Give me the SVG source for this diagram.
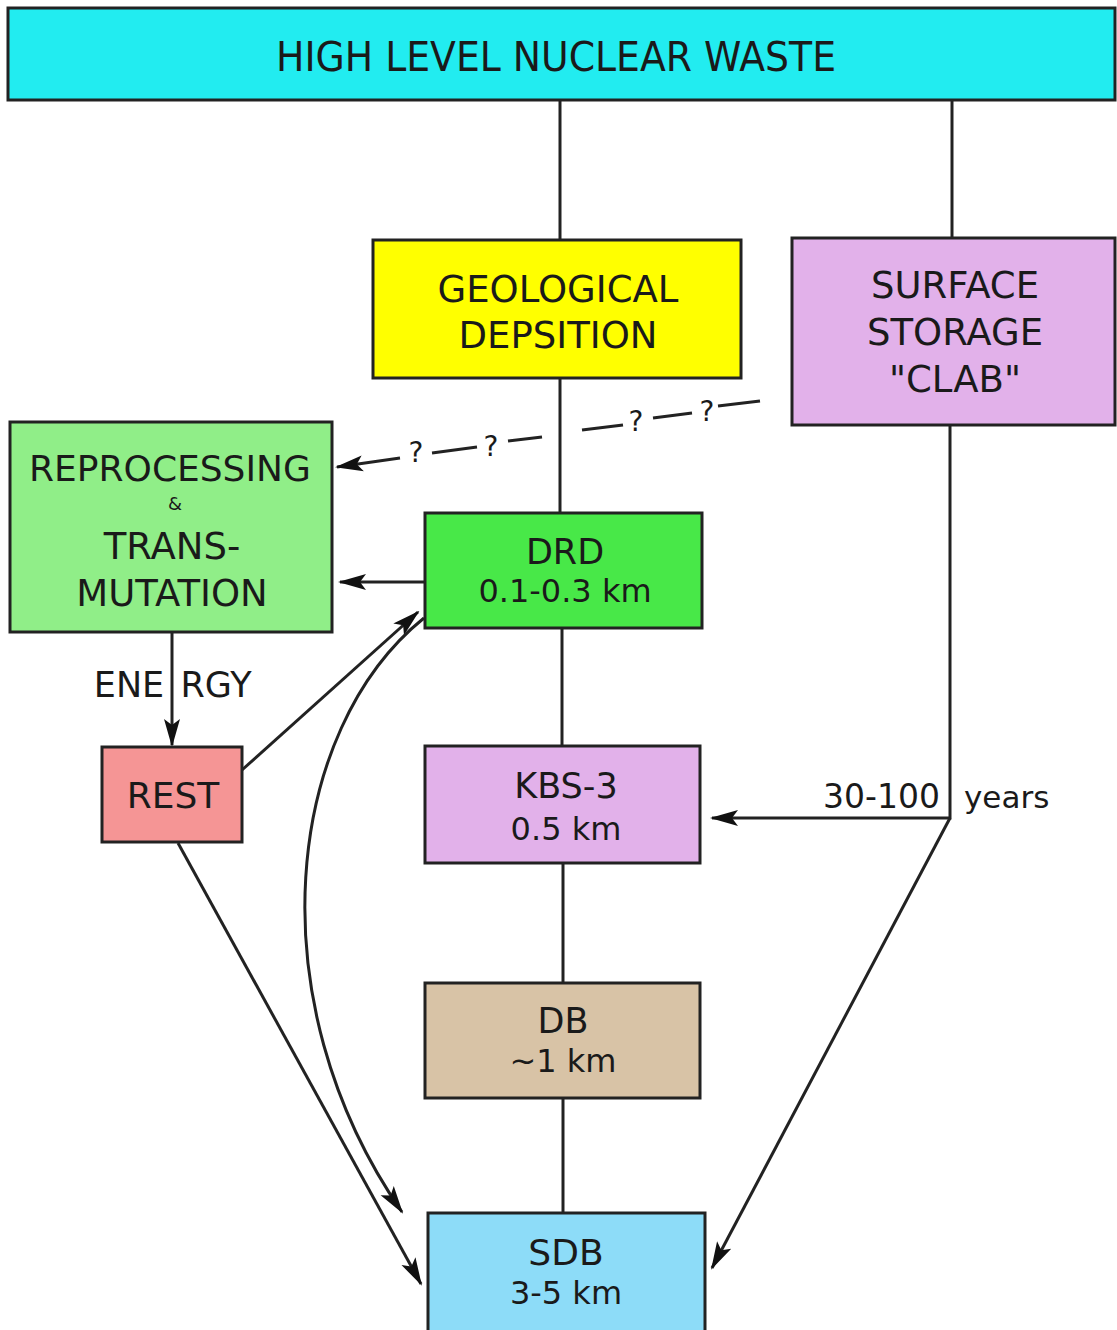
<svg xmlns="http://www.w3.org/2000/svg" width="1117" height="1330" viewBox="0 0 1117 1330">
<defs>
<style>
.box{stroke:#222;stroke-width:3}
.t{font-family:"DejaVu Sans","Liberation Sans",sans-serif;fill:#1a1a1a;text-anchor:middle}
.ln{stroke:#222;stroke-width:3;fill:none}
.q{font-family:"DejaVu Sans","Liberation Sans",sans-serif;fill:#1a1a1a;font-size:28px;text-anchor:middle}
</style>
<marker id="ah" markerUnits="userSpaceOnUse" markerWidth="28" markerHeight="18" viewBox="0 0 28 18" refX="26" refY="9" orient="auto">
<path d="M0,1 L28,9 L0,17 L6,9 z" fill="#111"/>
</marker>
</defs>
<rect width="1117" height="1330" fill="#fff"/>

<g id="connectors">
<line class="ln" x1="560" y1="100" x2="560" y2="240"/>
<line class="ln" x1="952" y1="100" x2="952" y2="238"/>
<line class="ln" x1="560" y1="378" x2="560" y2="514"/>
<line class="ln" x1="562" y1="628" x2="562" y2="746"/>
<line class="ln" x1="563" y1="863" x2="563" y2="983"/>
<line class="ln" x1="563" y1="1098" x2="563" y2="1213"/>
<line class="ln" x1="425" y1="582" x2="340" y2="582" marker-end="url(#ah)"/>
<line class="ln" x1="172" y1="632" x2="172" y2="745" marker-end="url(#ah)"/>
<line class="ln" x1="242" y1="770" x2="418" y2="612" marker-end="url(#ah)"/>
<path class="ln" d="M424,618 C285,730 255,1000 402,1212" marker-end="url(#ah)"/>
<line class="ln" x1="178" y1="843" x2="421" y2="1284" marker-end="url(#ah)"/>
<polyline class="ln" points="950,425 950,818 712,818" marker-end="url(#ah)"/>
<line class="ln" x1="950" y1="818" x2="712" y2="1268" marker-end="url(#ah)"/>
<g id="dashed-question">
<line class="ln" x1="400" y1="458" x2="337" y2="467" marker-end="url(#ah)"/>
<line class="ln" x1="432" y1="453" x2="477" y2="447"/>
<line class="ln" x1="508" y1="441" x2="542" y2="437"/>
<line class="ln" x1="582" y1="430" x2="623" y2="425"/>
<line class="ln" x1="653" y1="418" x2="692" y2="413"/>
<line class="ln" x1="718" y1="406" x2="760" y2="401"/>
<text class="q" x="416" y="462">?</text>
<text class="q" x="491" y="456">?</text>
<text class="q" x="636" y="431">?</text>
<text class="q" x="707" y="421">?</text>
</g>
<text class="t" x="129" y="697" font-size="35">ENE</text>
<text class="t" x="216" y="697" font-size="35">RGY</text>
<text class="t" x="940" y="808" font-size="33" style="text-anchor:end">30-100</text>
<text class="t" x="964" y="808" font-size="31" style="text-anchor:start">years</text>
</g>

<g id="hlw">
<rect class="box" x="8" y="8" width="1107" height="92" fill="#22ecf0"/>
<text class="t" x="556" y="71" font-size="41" textLength="560" lengthAdjust="spacingAndGlyphs">HIGH LEVEL NUCLEAR WASTE</text>
</g>
<g id="geological">
<rect class="box" x="373" y="240" width="368" height="138" fill="#ffff00"/>
<text class="t" x="558" y="302" font-size="37">GEOLOGICAL</text>
<text class="t" x="558" y="348" font-size="37">DEPSITION</text>
</g>
<g id="surface">
<rect class="box" x="792" y="238" width="323" height="187" fill="#e2b1ea"/>
<text class="t" x="955" y="298" font-size="37">SURFACE</text>
<text class="t" x="955" y="345" font-size="37">STORAGE</text>
<text class="t" x="955" y="392" font-size="37">"CLAB"</text>
</g>
<g id="reprocessing">
<rect class="box" x="10" y="422" width="322" height="210" fill="#90ee88"/>
<text class="t" x="170" y="481" font-size="36">REPROCESSING</text>
<text class="t" x="175" y="510" font-size="18">&amp;</text>
<text class="t" x="172" y="559" font-size="37">TRANS-</text>
<text class="t" x="172" y="606" font-size="37">MUTATION</text>
</g>
<g id="drd">
<rect class="box" x="425" y="513" width="277" height="115" fill="#48e848"/>
<text class="t" x="565" y="564" font-size="35">DRD</text>
<text class="t" x="565" y="602" font-size="32">0.1-0.3 km</text>
</g>
<g id="rest">
<rect class="box" x="102" y="747" width="140" height="95" fill="#f59595"/>
<text class="t" x="173" y="808" font-size="36">REST</text>
</g>
<g id="kbs3">
<rect class="box" x="425" y="746" width="275" height="117" fill="#e2b1ea"/>
<text class="t" x="566" y="798" font-size="35">KBS-3</text>
<text class="t" x="566" y="840" font-size="32">0.5 km</text>
</g>
<g id="db">
<rect class="box" x="425" y="983" width="275" height="115" fill="#d8c3a6"/>
<text class="t" x="563" y="1033" font-size="35">DB</text>
<text class="t" x="563" y="1072" font-size="32">~1 km</text>
</g>
<g id="sdb">
<rect class="box" x="428" y="1213" width="277" height="120" fill="#8ddcf8"/>
<text class="t" x="566" y="1265" font-size="36">SDB</text>
<text class="t" x="566" y="1304" font-size="32">3-5 km</text>
</g>
</svg>
